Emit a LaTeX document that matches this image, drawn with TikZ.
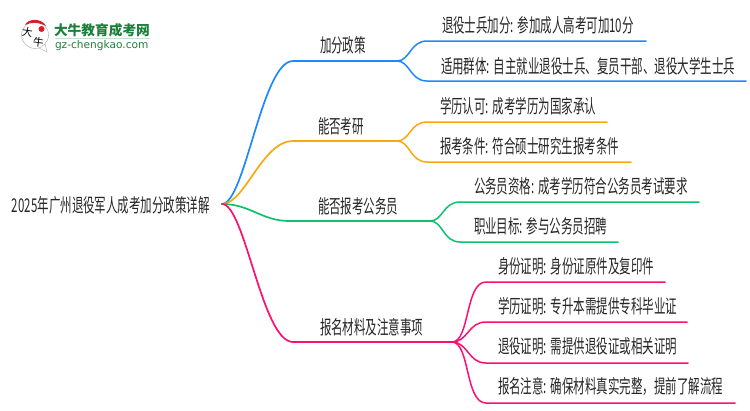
\documentclass[tikz,border=0pt]{standalone}
\usepackage{fontspec}
\setmainfont[FakeStretch=0.605]{Noto Sans CJK SC}
\newfontfamily\logofont{Noto Sans CJK SC}
\newfontfamily\sitefont{DejaVu Sans}
\usetikzlibrary{calc}
\definecolor{bluebr}{HTML}{1E88FF}
\definecolor{orangebr}{HTML}{F9A90F}
\definecolor{greenbr}{HTML}{0CC26C}
\definecolor{pinkbr}{HTML}{FF0F6E}
\definecolor{logogreen}{HTML}{1C7F3C}
\definecolor{logored}{HTML}{D3232A}
\tikzset{
    mindmap/.style={
        x=1pt,y=-1pt,
        every node/.append style={inner sep=0pt,outer sep=0pt},
        label/.append style={anchor=base west,font=\fontsize{19}{19}\selectfont,text=black!85},
        trunk/.append style={line width=1.7pt,line cap=round},
        twig/.append style={line width=1.5pt,line cap=round}
    }
}

\begin{document}
\begin{tikzpicture}[mindmap]
    \useasboundingbox (0,0) rectangle (750,410);

    % logo
    \coordinate (lc) at (35,35);
    \draw[black!25,fill=white,line width=.6pt] (lc) circle (13.5);
    \coordinate (ltail) at (47,52);
    \draw[black!25,line width=.6pt] (39,48) -- (ltail) -- (45,44);
    \fill[logored] (25,25) .. controls (28,18) and (42,18) .. (46,26) .. controls (38,22) and (31,22) .. cycle;
    \fill[logored] (41.5,29) circle (3);
    \node[rotate=-8,font=\logofont\fontsize{10.5}{10}\selectfont] (lda) at (27.5,32) {大};
    \node[rotate=-8,font=\logofont\fontsize{10.5}{10}\selectfont] (lniu) at (38.5,42.5) {牛};
    \node[anchor=base west,font=\logofont\bfseries\fontsize{13.7}{14}\selectfont,text=logogreen] (lname) at (54,35) {大牛教育成考网};
    \node[anchor=base west,font=\sitefont\fontsize{10.6}{10}\selectfont,text=logogreen] (lsite) at (55,48) {gz-chengkao.com};
    \coordinate (ll) at (55,38.5); \coordinate (lr) at (150,38.5);
    \draw[logogreen!25,line width=.6pt] (ll) -- (lr);

    % root
    \node[label] (root) at (12,212) {2025年广州退役军人成考加分政策详解};
    \coordinate (r) at (222,204);

    % first level
    \node[label] (t1) at (320,52) {加分政策};
    \node[label] (t2) at (318,133) {能否考研};
    \node[label] (t3) at (318,213) {能否报考公务员};
    \node[label] (t4) at (320,334) {报名材料及注意事项};

    \coordinate (a1) at (293,61);  \coordinate (a2) at (397,61);
    \coordinate (b1) at (293,141); \coordinate (b2) at (397,141);
    \coordinate (c1) at (289,221); \coordinate (c2) at (430,221);
    \coordinate (d1) at (293,342); \coordinate (d2) at (452,342);

    \draw[trunk,bluebr] (r) .. controls (245,204) and (262,61) .. (a1) -- (a2);
    \draw[trunk,orangebr] (r) .. controls (245,204) and (262,141) .. (b1) -- (b2);
    \draw[trunk,greenbr] (r) .. controls (250,204) and (262,221) .. (c1) -- (c2);
    \draw[trunk,pinkbr] (r) .. controls (245,204) and (262,342) .. (d1) -- (d2);

    % second level
    \node[label] (s11) at (442,32) {退役士兵加分: 参加成人高考可加10分};
    \node[label] (s12) at (441,73) {适用群体: 自主就业退役士兵、复员干部、退役大学生士兵};
    \node[label] (s21) at (440,113) {学历认可: 成考学历为国家承认};
    \node[label] (s22) at (440,153) {报考条件: 符合硕士研究生报考条件};
    \node[label] (s31) at (474,193) {公务员资格: 成考学历符合公务员考试要求};
    \node[label] (s32) at (474,233) {职业目标: 参与公务员招聘};
    \node[label] (s41) at (498,273) {身份证明: 身份证原件及复印件};
    \node[label] (s42) at (498,313) {学历证明: 专升本需提供专科毕业证};
    \node[label] (s43) at (498,353) {退役证明: 需提供退役证或相关证明};
    \node[label] (s44) at (498,393) {报名注意: 确保材料真实完整，提前了解流程};

    \coordinate (e11) at (646,41);  \coordinate (e12) at (746,81);
    \coordinate (e21) at (607,122); \coordinate (e22) at (631,162);
    \coordinate (e31) at (699,202); \coordinate (e32) at (618,242);
    \coordinate (e41) at (665,282); \coordinate (e42) at (687,322);
    \coordinate (e43) at (688,363); \coordinate (e44) at (735,403);

    \draw[twig,bluebr] (a2) .. controls (410,61) and (410,41) .. (427,41) -- (e11);
    \draw[twig,bluebr] (a2) .. controls (410,61) and (410,81) .. (427,81) -- (e12);
    \draw[twig,orangebr] (b2) .. controls (410,141) and (410,122) .. (427,122) -- (e21);
    \draw[twig,orangebr] (b2) .. controls (410,141) and (410,162) .. (427,162) -- (e22);
    \draw[twig,greenbr] (c2) .. controls (443,221) and (443,202) .. (460,202) -- (e31);
    \draw[twig,greenbr] (c2) .. controls (443,221) and (443,242) .. (460,242) -- (e32);
    \draw[twig,pinkbr] (d2) .. controls (470,342) and (465,282) .. (486,282) -- (e41);
    \draw[twig,pinkbr] (d2) .. controls (468,342) and (468,322) .. (486,322) -- (e42);
    \draw[twig,pinkbr] (d2) .. controls (468,342) and (468,363) .. (486,363) -- (e43);
    \draw[twig,pinkbr] (d2) .. controls (470,342) and (465,403) .. (486,403) -- (e44);
\end{tikzpicture}
\end{document}
